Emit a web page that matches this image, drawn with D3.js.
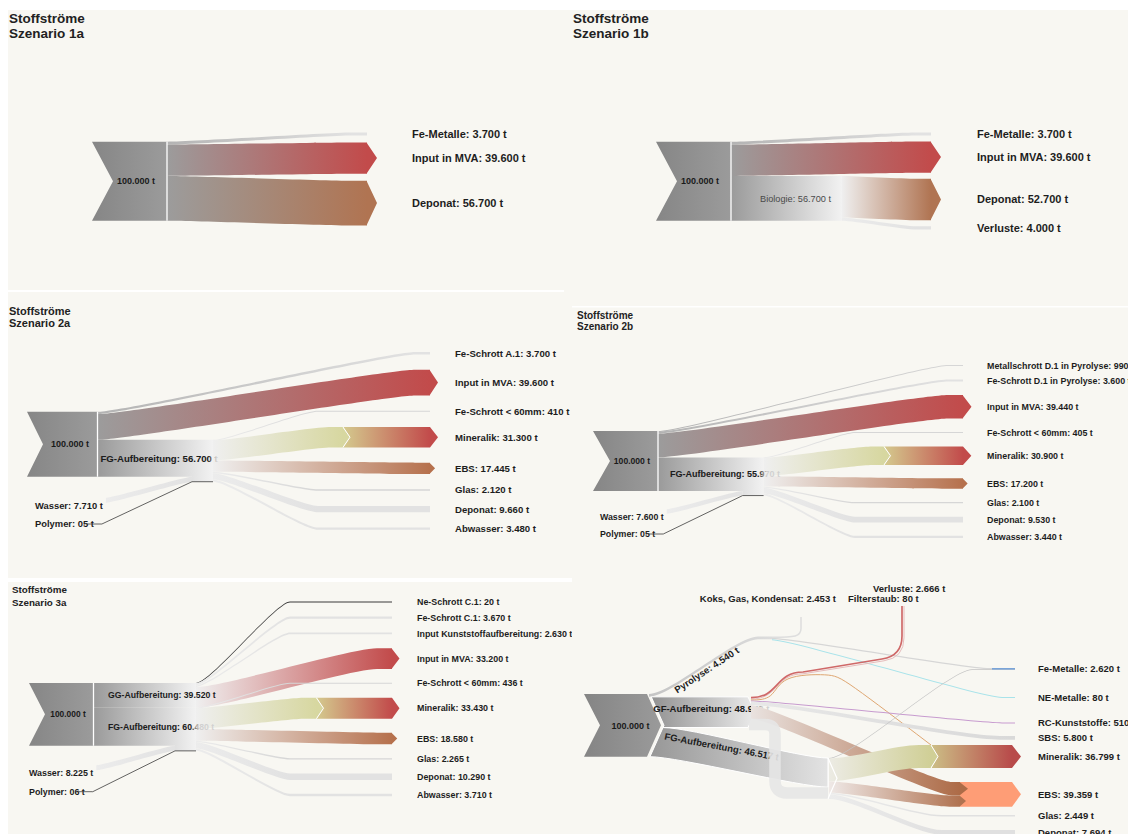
<!DOCTYPE html>
<html>
<head>
<meta charset="utf-8">
<title>Stoffströme</title>
<script src="https://cdn.jsdelivr.net/npm/d3@7"></script>
<style>
  body { margin: 0; background: #fff; }
  text { font-family: "Liberation Sans", Arial, Helvetica, sans-serif; }
</style>
</head>
<body>
<svg id="chart" width="1128" height="834"></svg>
<script>
// ---------- Daten (Tonnen) ----------
const s1aTitle = "Szenario 1a";
const s1aTargets = ["Fe-Metalle", "Input in MVA", "Deponat"];
const s1aValues = [3700, 39600, 56700];
const s1aFrom = [-1, -1, -1];

const s1bTitle = "Szenario 1b";
const s1bTargets = ["Fe-Metalle", "Input in MVA", "Deponat", "Verluste"];
const s1bValues = [3700, 39600, 52700, 4000];
const s1bFrom = [-1, -1, 0, 0];
const s1bNodes = ["Biologie"];
const s1bNodeValues = [56700];

const s2aTitle = "Szenario 2a";
const s2aTargets = ["Fe-Schrott A.1", "Input in MVA", "Fe-Schrott < 60mm", "Mineralik", "EBS", "Glas", "Deponat", "Abwasser"];
const s2aValues = [3700, 39600, 410, 31300, 17445, 2120, 9660, 3480];
const s2aFrom = [-1, -1, 0, 0, 0, 0, 0, 0];
const s2aNodes = ["FG-Aufbereitung"];
const s2aNodeValues = [56700];
const s2aInputs = ["Wasser", "Polymer"];
const s2aInputValues = [7710, 5];

const s2bTitle = "Szenario 2b";
const s2bTargets = ["Metallschrott D.1 in Pyrolyse", "Fe-Schrott D.1 in Pyrolyse", "Input in MVA", "Fe-Schrott < 60mm", "Mineralik", "EBS", "Glas", "Deponat", "Abwasser"];
const s2bValues = [990, 3600, 39440, 405, 30900, 17200, 2100, 9530, 3440];
const s2bFrom = [-1, -1, -1, 0, 0, 0, 0, 0, 0];
const s2bNodes = ["FG-Aufbereitung"];
const s2bNodeValues = [55970];
const s2bInputs = ["Wasser", "Polymer"];
const s2bInputValues = [7600, 5];

const s3aTitle = "Szenario 3a";
const s3aTargets = ["Ne-Schrott C.1", "Fe-Schrott C.1", "Input Kunststoffaufbereitung", "Input in MVA", "Fe-Schrott < 60mm", "Mineralik", "EBS", "Glas", "Deponat", "Abwasser"];
const s3aValues = [20, 3670, 2630, 33200, 436, 33430, 18580, 2265, 10290, 3710];
const s3aFrom = [0, 0, 0, 0, 1, 1, 1, 1, 1, 1];
const s3aNodes = ["GG-Aufbereitung", "FG-Aufbereitung"];
const s3aNodeValues = [39520, 60480];
const s3aInputs = ["Wasser", "Polymer"];
const s3aInputValues = [8225, 6];

// Szenario 3b: Fluesse (von, nach, Tonnen)
const s3bFrom = ["Input", "Input", "Input", "Pyrolyse", "Pyrolyse", "Pyrolyse",
  "GF-Aufbereitung", "GF-Aufbereitung", "GF-Aufbereitung", "GF-Aufbereitung", "GF-Aufbereitung", "GF-Aufbereitung", "GF-Aufbereitung",
  "FG-Aufbereitung", "FG-Aufbereitung", "FG-Aufbereitung", "FG-Aufbereitung", "FG-Aufbereitung"];
const s3bTo = ["Pyrolyse", "GF-Aufbereitung", "FG-Aufbereitung", "Koks, Gas, Kondensat", "Fe-Metalle", "NE-Metalle",
  "Verluste", "Filterstaub", "Mineralik", "RC-Kunststoffe", "SBS", "EBS", "FG-Aufbereitung",
  "Fe-Metalle", "Mineralik", "EBS", "Glas", "Deponat"];
const s3bValues = [4540, 48943, 46517, 2453, 2007, 80,
  2666, 80, 1000, 510, 5800, 21510, 18377,
  613, 36799, 17849, 2449, 7694];
const s3bOutputs = ["Fe-Metalle", "NE-Metalle", "RC-Kunststoffe", "SBS", "Mineralik", "EBS", "Glas", "Deponat"];
const s3bOutputValues = [2620, 80, 510, 5800, 36799, 39359, 2449, 7694];
const s3bTopOutputs = ["Koks, Gas, Kondensat", "Verluste", "Filterstaub"];
const s3bTopValues = [2453, 2666, 80];

// ---------- Layout ----------
const BG = "#f8f7f2";
const arrowStyles = {"Input in MVA": "red", "Mineralik": "mineral", "EBS": "ebs"};
const L1a = {bg: [8, 10, 556, 280], titleX: 9, titleY: 23.3, titleSize: 13.5, titleLH: 15,
  chevX: 92, top: 141.7, H: 79, notch: 21, divX: 167, tgtX: 367, tip: 10, tgtY0: 132.5, gap: 7,
  labelX: 412, fs: 11, srcFs: 9, srcX: 136, styles: {"Input in MVA": "red", "Deponat": "brown"}};
const L1b = Object.assign({}, L1a, {bg: [564, 10, 564, 296], titleX: 573, chevX: 656, divX: 731, tgtX: 931,
  nodeX1: 842, gap: 6, labelX: 977, srcX: 700, nodeLabelX: 760, nodePlain: true});
const L2a = {bg: [8, 292, 564, 286], titleX: 9, titleY: 315, titleSize: 11, titleLH: 12.3,
  chevX: 27, top: 411.7, H: 65, notch: 16, divX: 97.5, nodeX1: 213, stub: 21, tgtX: 430, tip: 8,
  tgtY0: 352, gap: 15.3, labelX: 455, fs: 9.6, srcFs: 9, srcX: 70, grayBend: 318, chevronX: 343,
  nodeFs: 9.6, nodeLabelX: 100.5, fade: [true], inX: 35, inY: [505.7, 524], inFs: 9.4, styles: arrowStyles};
const L2b = {bg: [572, 307.5, 556, 270.5], titleX: 577, titleY: 319, titleSize: 10, titleLH: 11,
  chevX: 593, top: 431, H: 60, notch: 17, divX: 658, nodeX1: 763.6, stub: 21, tgtX: 963, tip: 8.5,
  tgtY0: 365, gap: 13.4, labelX: 987, fs: 8.9, srcFs: 8.6, srcX: 632, grayBend: 855, chevronX: 884,
  nodeFs: 9, nodeLabelX: 670, fade: [true], inX: 600, inY: [516.7, 534], inFs: 8.8, styles: arrowStyles};
const L3a = {bg: [8, 582, 564, 252], titleX: 12, titleY: 593.3, titleSize: 9.8, titleLH: 12.8,
  chevX: 29, top: 683, H: 62.7, notch: 16, divX: 93.5, nodeX1: 196, stub: 21, tgtX: 392, tip: 7.5,
  tgtY0: 601.5, gap: 13.9, labelX: 417, fs: 8.9, srcFs: 8.4, srcX: 68, grayBend: 290, chevronX: 316.5,
  nodeFs: 8.7, nodeLabelX: 108, fade: [false, true], inX: 29, inY: [773.3, 791.7], inFs: 8.9,
  styles: Object.assign({"Ne-Schrott C.1": "dark"}, arrowStyles)};
const L3b = {bg: [572, 578, 556, 256],
  chevX: 584, top: 694, H: 62.7, notch: 16, chevR: 647, chevTip: 14,
  pyroX: 758, pyroY: 636.5, pyroX1: 772, gfX1: 748, gfTip: 7,
  fgX: 828, fgY: 758, fgTip: 9, loopX: 775, hump: 672,
  koksX: 801, koksY: 617, verlX: 902, verlY: 606,
  minChevX: 931, ebsX: 960, colX: 1012, tip: 9, labelX: 1038, fs: 9.5, srcFs: 9,
  rows: {"Fe-Metalle": 668, "NE-Metalle": 697, "RC-Kunststoffe": 722.5, "SBS": 736,
         "Mineralik": 745, "EBS": 782, "Glas": 815, "Deponat": 830}};

// ---------- Helfer ----------
const svg = d3.select("#chart");
const defs = svg.append("defs");
const fmtT = d3.formatLocale({decimal: ",", thousands: ".", grouping: [3], currency: ["", ""]}).format(",d");
const tLabel = v => (v < 10 ? d3.format("02d")(v) : fmtT(v)) + " t";
let gid = 0;

function grad(x1, x2, stops) {
  const id = "g" + (gid++);
  const lg = defs.append("linearGradient").attr("id", id).attr("gradientUnits", "userSpaceOnUse")
    .attr("x1", x1).attr("x2", x2).attr("y1", 0).attr("y2", 0);
  stops.forEach(s => lg.append("stop").attr("offset", s[0]).attr("stop-color", s[1]));
  return "url(#" + id + ")";
}

function ribbon(x0, y0, xb, y1, x1, w, c) {
  const cc = c == null ? Math.min(26, (xb - x0) * 0.15) : c;
  const p = d3.path();
  p.moveTo(x0, y0);
  p.bezierCurveTo(x0 + cc, y0, xb - cc, y1, xb, y1);
  p.lineTo(x1, y1);
  p.lineTo(x1, y1 + w);
  p.lineTo(xb, y1 + w);
  p.bezierCurveTo(xb - cc, y1 + w, x0 + cc, y0 + w, x0, y0 + w);
  p.closePath();
  return p.toString();
}
const tipPath = (x, y, w, t) => `M${x - 0.5},${y}L${x + t},${y + w / 2}L${x - 0.5},${y + w}Z`;

function text(g, x, y, txt, fs, o = {}) {
  return g.append("text").attr("x", x).attr("y", y).attr("font-size", fs)
    .attr("font-weight", o.weight || "bold").attr("fill", o.fill || "#1d1d1d")
    .attr("text-anchor", o.anchor || "start").text(txt);
}

function title(g, L, sub) {
  const t = g.append("text").attr("x", L.titleX).attr("y", L.titleY).attr("font-size", L.titleSize)
    .attr("font-weight", "bold").attr("fill", "#222");
  t.append("tspan").text("Stoffströme");
  t.append("tspan").attr("x", L.titleX).attr("dy", L.titleLH).text(sub);
}

function drawFlow(g, L, name, x0, y0, y1, w, fromNode) {
  const style = L.styles[name] || "gray";
  const x1 = L.tgtX;
  const startCol = fromNode ? "#efefef" : "#9c9c9c";
  if (style === "gray" || style === "dark") {
    const bend = fromNode && L.grayBend ? L.grayBend : x1 - 15;
    const fill = style === "dark" ? "#3a3a3a"
      : grad(x0, bend, [[0, fromNode ? "#ececec" : "#b3b3b3"], [1, w < 1.6 ? "#d6d6d6" : "#e2e2e2"]]);
    g.append("path").attr("d", ribbon(x0, y0, bend, y1, x1, style === "dark" ? 0.9 : w)).attr("fill", fill);
  } else if (style === "mineral") {
    const cx = L.chevronX, t = Math.min(7, w * 0.35), at = Math.min(L.tip, w * 0.45);
    g.append("path").attr("d", ribbon(x0, y0, cx - 12, y1, cx, w) + tipPath(cx, y1, w, t))
      .attr("fill", grad(x0, cx, [[0, startCol], [1, "#d7d7a0"]]));
    g.append("path").attr("d", `M${cx},${y1}H${x1}L${x1 + at},${y1 + w / 2}L${x1},${y1 + w}H${cx}L${cx + t},${y1 + w / 2}Z`)
      .attr("fill", grad(cx, x1, [[0, "#d4ca8e"], [1, "#c24b4b"]]));
    g.append("path").attr("d", `M${cx},${y1}L${cx + t},${y1 + w / 2}L${cx},${y1 + w}`)
      .attr("fill", "none").attr("stroke", "#fff").attr("stroke-width", 1);
  } else {
    const end = {red: "#c24b4b", brown: "#b07452", ebs: "#b6714d"}[style];
    const at = Math.min(L.tip, w * 0.45);
    g.append("path").attr("d", ribbon(x0, y0, x1 - 15, y1, x1, w) + tipPath(x1, y1, w, at))
      .attr("fill", grad(x0, x1, [[0, startCol], [1, end]]));
  }
}

function drawStandard(L, D) {
  const g = svg.append("g");
  g.append("rect").attr("x", L.bg[0]).attr("y", L.bg[1]).attr("width", L.bg[2]).attr("height", L.bg[3]).attr("fill", BG);
  title(g, L, D.title);
  const nodeValues = D.nodeValues || [];
  const total = d3.sum(D.values.filter((v, i) => D.from[i] < 0)) + d3.sum(nodeValues);
  const y = d3.scaleLinear().domain([0, total]).range([0, L.H]);
  const wv = v => Math.max(y(v), 1);
  const bottom = L.top + L.H;

  // Quelle
  g.append("path")
    .attr("d", `M${L.chevX},${L.top}H${L.divX}V${bottom}H${L.chevX}L${L.chevX + L.notch},${L.top + L.H / 2}Z`)
    .attr("fill", grad(L.chevX, L.divX, [[0, "#868686"], [1, "#9b9b9b"]]));

  let sy = L.top;
  const start = [];
  D.values.forEach((v, i) => { if (D.from[i] < 0) { start[i] = sy; sy += y(v); } });
  const nodes = (D.nodes || []).map((n, j) => {
    const o = {name: n, v: nodeValues[j], top: sy, h: y(nodeValues[j])};
    o.cur = o.top; sy += o.h; return o;
  });
  const inVals = D.inputValues || [];
  const inW = inVals.map(v => y(v));

  nodes.forEach((n, j) => {
    const hasIn = j === nodes.length - 1 && inW.length > 0;
    const hOut = n.h + (hasIn ? d3.sum(inW) : 0);
    const xs = L.nodeX1 - (L.stub || 0);
    const d = hasIn
      ? `M${L.divX},${n.top}H${L.nodeX1}V${n.top + hOut}H${xs}V${n.top + n.h}H${L.divX}Z`
      : `M${L.divX},${n.top}H${L.nodeX1}V${n.top + n.h}H${L.divX}Z`;
    g.append("path").attr("d", d).attr("fill", grad(L.divX, L.nodeX1, [[0, "#9a9a9a"], [1, "#f2f2f2"]]));
  });

  // Ziele
  let ty = L.tgtY0;
  const tTop = D.values.map(v => { const t = ty; ty += wv(v) + L.gap; return t; });

  D.values.forEach((v, i) => {
    const f = D.from[i];
    let x0, y0;
    if (f < 0) { x0 = L.divX; y0 = start[i]; }
    else { x0 = L.nodeX1; y0 = nodes[f].cur; nodes[f].cur += y(v); }
    drawFlow(g, L, D.targets[i], x0, y0, tTop[i], wv(v), f >= 0);
  });

  g.append("line").attr("x1", L.divX).attr("x2", L.divX).attr("y1", L.top).attr("y2", bottom)
    .attr("stroke", "#fff").attr("stroke-width", 1.3);

  // Beschriftungen
  text(g, L.srcX, L.top + L.H / 2 + L.srcFs * 0.35, tLabel(total), L.srcFs, {anchor: "middle", fill: "#1a1a1a"});
  D.values.forEach((v, i) => {
    text(g, L.labelX, tTop[i] + wv(v) / 2 + L.fs * 0.35, D.targets[i] + ": " + tLabel(v), L.fs);
  });
  nodes.forEach((n, j) => {
    const ly = n.top + n.h / 2;
    if (L.nodePlain) {
      text(g, L.nodeLabelX, ly + 3.5, n.name + ": " + tLabel(n.v), 9.2, {weight: "normal", fill: "#4a4a4a"});
    } else {
      const fill = L.fade[j] ? grad(L.nodeX1 - 5, L.nodeX1 + 3, [[0, "#1d1d1d"], [1, "#d0d0d0"]]) : "#1d1d1d";
      text(g, L.nodeLabelX, ly + L.nodeFs * 0.35, n.name + ": " + tLabel(n.v), L.nodeFs, {fill: fill});
    }
  });

  // Zufluesse (Wasser, Polymer)
  if (inW.length) {
    const last = nodes[nodes.length - 1];
    const xs = L.nodeX1 - L.stub;
    let yy = last.top + last.h;
    D.inputs.forEach((name, k) => {
      const t = text(g, L.inX, L.inY[k] + L.inFs * 0.35, name + ": " + tLabel(inVals[k]), L.inFs);
      const tw = t.node().getComputedTextLength();
      const w = inW[k];
      if (w >= 1) {
        const bx = L.inX + tw + 3, by = L.inY[k] - 3 - w;
        g.insert("path", "text").attr("d", ribbon(bx, by, xs, yy, xs, w, 8))
          .attr("fill", grad(bx, xs, [[0, "#ececec"], [1, "#e2e2e2"]]));
      } else {
        g.append("path").attr("d", `M${L.inX + tw - 7},${L.inY[k]}H${L.inX + tw + 8}L${xs},${yy + w}H${L.nodeX1}`)
          .attr("fill", "none").attr("stroke", "#3c3c3c").attr("stroke-width", 0.8);
      }
      yy += w;
    });
  }
}

function draw3b(L) {
  const g = svg.append("g");
  g.append("rect").attr("x", L.bg[0]).attr("y", L.bg[1]).attr("width", L.bg[2]).attr("height", L.bg[3]).attr("fill", BG);
  const flow = (a, b) => s3bValues[s3bFrom.findIndex((f, i) => f === a && s3bTo[i] === b)];
  const total = d3.sum(s3bValues.filter((v, i) => s3bFrom[i] === "Input"));
  const y = d3.scaleLinear().domain([0, total]).range([0, L.H]);
  const wv = v => Math.max(y(v), 1);
  const row = L.rows;
  const top = L.top, bot = L.top + L.H, mid = (top + bot) / 2;
  const pW = y(flow("Input", "Pyrolyse")), gW = y(flow("Input", "GF-Aufbereitung")), fW = y(flow("Input", "FG-Aufbereitung"));
  const yG = top + pW, yF = yG + gW;
  const xe = yy => L.chevR + 3 + L.chevTip * (1 - Math.abs(yy - mid) / (L.H / 2));

  // Quelle mit Spitze
  g.append("path")
    .attr("d", `M${L.chevX},${top}H${L.chevR}L${L.chevR + L.chevTip},${mid}L${L.chevR},${bot}H${L.chevX}L${L.chevX + L.notch},${mid}Z`)
    .attr("fill", grad(L.chevX, L.chevR + L.chevTip, [[0, "#858585"], [1, "#9a9a9a"]]));

  // Pyrolyse
  const pyC = 22;
  g.append("path").attr("d", ribbon(L.chevR + 2, top, L.pyroX, L.pyroY, L.pyroX1, pW, pyC))
    .attr("fill", grad(L.chevR, L.pyroX1, [[0, "#c4c4c4"], [1, "#dcdcdc"]]));

  // FG-Band
  const fx0t = xe(yF), fx0b = xe(bot);
  const pf = d3.path();
  pf.moveTo(fx0t, yF);
  pf.bezierCurveTo(fx0t + 28, yF, L.fgX - 28, L.fgY, L.fgX, L.fgY);
  pf.lineTo(L.fgX, L.fgY + fW);
  pf.bezierCurveTo(L.fgX - 28, L.fgY + fW, fx0b + 28, bot, fx0b, bot);
  pf.closePath();
  g.append("path").attr("d", pf.toString())
    .attr("fill", grad(fx0b, L.fgX, [[0, "#979797"], [1, "#e3e3e3"]])).attr("stroke", "#fff").attr("stroke-width", 1);

  // GF-Stueck
  const gMid = (yG + yF) / 2;
  g.append("path")
    .attr("d", `M${xe(yG)},${yG}H${L.gfX1}L${L.gfX1 + L.gfTip},${gMid}L${L.gfX1},${yF}H${xe(yF)}L${xe(mid)},${mid}Z`)
    .attr("fill", grad(L.chevR, L.gfX1 + L.gfTip, [[0, "#8e8e8e"], [1, "#ebebeb"]]))
    .attr("stroke", "#fff").attr("stroke-width", 1);

  // Beschriftungen der Knoten
  text(g, (L.chevX + L.notch + L.chevR + L.chevTip) / 2, mid + L.srcFs * 0.35, tLabel(total), L.srcFs, {anchor: "middle", fill: "#1a1a1a"});
  text(g, xe(yG) + 2, gMid - 4 + L.fs * 0.35, "GF-Aufbereitung: " + tLabel(flow("Input", "GF-Aufbereitung")), L.fs,
    {fill: grad(L.gfX1 + 6, L.gfX1 + 14, [[0, "#1d1d1d"], [1, "#cfcfcf"]])});
  const pAng = Math.atan2(L.pyroY - top, L.pyroX - (L.chevR + 2) - pyC) * 180 / Math.PI;
  const pmx = (L.chevR + 2 + L.pyroX) / 2 + 5, pmy = (top + L.pyroY) / 2 + 7.5;
  text(g, pmx, pmy, "Pyrolyse: " + tLabel(flow("Input", "Pyrolyse")), L.fs, {anchor: "middle"})
    .attr("transform", `rotate(${pAng},${pmx},${pmy})`);
  const fAng = Math.atan2(L.fgY - yF, L.fgX - fx0t) * 180 / Math.PI;
  const fsx = fx0t + 1, fsy = yF + 12;
  text(g, fsx, fsy, "FG-Aufbereitung: " + tLabel(flow("Input", "FG-Aufbereitung")), L.fs)
    .attr("transform", `rotate(${fAng},${fsx},${fsy})`);

  // Pyrolyse-Ausgaenge
  let py = L.pyroY;
  const kW = wv(flow("Pyrolyse", "Koks, Gas, Kondensat"));
  const pk = d3.path();
  pk.moveTo(L.pyroX1, py + kW / 2);
  pk.bezierCurveTo(L.koksX - 6, py + kW / 2, L.koksX, py, L.koksX, py - 8);
  pk.lineTo(L.koksX, L.koksY);
  g.append("path").attr("d", pk.toString()).attr("fill", "none").attr("stroke", "#dedede").attr("stroke-width", kW);
  py += kW;
  const feP = wv(flow("Pyrolyse", "Fe-Metalle"));
  g.append("path").attr("d", ribbon(L.pyroX1, py, L.colX - 22, row["Fe-Metalle"], L.colX + 3, feP, 25)).attr("fill", "#d6d6d6");
  py += feP;
  g.append("path").attr("d", ribbon(L.pyroX1, py, L.colX - 10, row["NE-Metalle"], L.colX + 3, wv(flow("Pyrolyse", "NE-Metalle")), 20))
    .attr("fill", "#a8e3ea");

  // GF-Ausgaenge
  const gx = L.gfX1 + 3;
  let gy = yG;
  function verl(y0, dx, dy) {
    const p = d3.path(), hy = L.hump + dy;
    p.moveTo(gx, y0);
    p.bezierCurveTo(gx + 28, y0, gx + 24, hy, gx + 52, hy);
    p.lineTo(L.verlX + dx - 20, hy - 13);
    p.quadraticCurveTo(L.verlX + dx, hy - 16, L.verlX + dx, hy - 36);
    p.lineTo(L.verlX + dx, L.verlY);
    return p.toString();
  }
  const vW = wv(flow("GF-Aufbereitung", "Verluste"));
  const fsW = wv(flow("GF-Aufbereitung", "Filterstaub"));
  g.append("path").attr("d", verl(gy + vW + fsW / 2, 2, 1.8)).attr("fill", "none").attr("stroke", "#e6bcbc").attr("stroke-width", fsW);
  g.append("path").attr("d", verl(gy + vW / 2, 0, 0)).attr("fill", "none").attr("stroke", "#cf6868").attr("stroke-width", vW);
  gy += vW + fsW;
  const oW = wv(flow("GF-Aufbereitung", "Mineralik"));
  g.append("path").attr("d", d3.line().curve(d3.curveBasis)([[gx, gy + oW / 2], [gx + 22, gy], [gx + 30, L.hump + 3],
      [gx + 80, L.hump + 2], [gx + 92, L.hump + 6], [L.minChevX, row["Mineralik"]]]))
    .attr("fill", "none").attr("stroke", "#dfa772").attr("stroke-width", oW);
  gy += oW;
  const rW = wv(flow("GF-Aufbereitung", "RC-Kunststoffe"));
  g.append("path").attr("d", ribbon(gx, gy, L.colX - 10, row["RC-Kunststoffe"], L.colX + 3, rW, 20)).attr("fill", "#c79bcf");
  gy += rW;
  const sW = wv(flow("GF-Aufbereitung", "SBS"));
  g.append("path").attr("d", ribbon(gx, gy, L.colX - 12, row["SBS"], L.colX + 3, sW, 40))
    .attr("fill", grad(gx, L.colX, [[0, "#e8e8e8"], [1, "#d9d9d9"]]));
  gy += sW;

  // EBS-Pfeil
  const ebsW = wv(s3bOutputValues[s3bOutputs.indexOf("EBS")]);
  g.append("path").attr("d", `M${L.ebsX},${row["EBS"]}H${L.colX}L${L.colX + L.tip},${row["EBS"] + ebsW / 2}L${L.colX},${row["EBS"] + ebsW}H${L.ebsX}Z`)
    .attr("fill", "#fe9d76");
  const eW = y(flow("GF-Aufbereitung", "EBS"));
  g.append("path").attr("d", ribbon(gx, gy, L.ebsX - 8, row["EBS"], L.ebsX, eW, 20) + tipPath(L.ebsX, row["EBS"], eW, 8))
    .attr("fill", grad(gx, L.ebsX, [[0, "#e9e2df"], [1, "#ad6b47"]]));
  gy += eW;

  // Schleife GF -> FG
  const lW = y(flow("GF-Aufbereitung", "FG-Aufbereitung"));
  const ly = gy + lW / 2, ey = L.fgY + fW + lW / 2;
  const pl = d3.path();
  pl.moveTo(gx - 2, ly);
  pl.lineTo(L.loopX - 10, ly);
  pl.quadraticCurveTo(L.loopX, ly, L.loopX, ly + 10);
  pl.lineTo(L.loopX, ey - 12);
  pl.quadraticCurveTo(L.loopX, ey, L.loopX + 12, ey);
  pl.lineTo(L.fgX, ey);
  g.append("path").attr("d", pl.toString()).attr("fill", "none").attr("stroke", "#e6e6e6")
    .attr("stroke-opacity", 0.9).attr("stroke-width", lW);

  // FG-Ausgaenge
  const fx = L.fgX + 1;
  let fy = L.fgY;
  const fe2 = y(flow("FG-Aufbereitung", "Fe-Metalle"));
  g.append("path").attr("d", ribbon(fx, fy, L.colX - 40, row["Fe-Metalle"] + feP, L.colX + 3, Math.max(fe2, 0.8), 22)).attr("fill", "#c4c4c4");
  fy += fe2;
  const mW = y(flow("FG-Aufbereitung", "Mineralik"));
  const cx = L.minChevX;
  g.append("path").attr("d", ribbon(fx, fy, cx - 12, row["Mineralik"], cx, mW, 22) + tipPath(cx, row["Mineralik"], mW, 7))
    .attr("fill", grad(fx, cx, [[0, "#ecebe4"], [1, "#d0cf96"]]));
  g.append("path").attr("d", `M${cx},${row["Mineralik"]}H${L.colX}L${L.colX + L.tip},${row["Mineralik"] + mW / 2}L${L.colX},${row["Mineralik"] + mW}H${cx}L${cx + 7},${row["Mineralik"] + mW / 2}Z`)
    .attr("fill", grad(cx, L.colX, [[0, "#ccbf86"], [1, "#b84a4a"]]));
  g.append("path").attr("d", `M${cx},${row["Mineralik"]}L${cx + 7},${row["Mineralik"] + mW / 2}L${cx},${row["Mineralik"] + mW}`)
    .attr("fill", "none").attr("stroke", "#fff").attr("stroke-width", 1);
  fy += mW;
  const e2 = y(flow("FG-Aufbereitung", "EBS"));
  g.append("path").attr("d", ribbon(fx, fy, L.ebsX - 8, row["EBS"] + eW, L.ebsX, e2, 22) + tipPath(L.ebsX, row["EBS"] + eW, e2, 6))
    .attr("fill", grad(fx, L.ebsX, [[0, "#efe9e7"], [1, "#b07250"]]));
  fy += e2;
  ["Glas", "Deponat"].forEach(n => {
    const w = wv(flow("FG-Aufbereitung", n));
    g.append("path").attr("d", ribbon(fx, fy, 942, row[n], L.colX + 3, w, 25))
      .attr("fill", grad(fx, 942, [[0, "#ececec"], [1, "#e0e0e0"]]));
    fy += w;
  });
  const nodeH = fW + lW;
  g.append("path").attr("d", `M${L.fgX},${L.fgY}L${L.fgX + L.fgTip},${L.fgY + nodeH / 2}L${L.fgX},${L.fgY + nodeH}`)
    .attr("fill", "none").attr("stroke", "#fff").attr("stroke-width", 1.2);

  // Fe-Metalle Markierung
  const feTot = wv(s3bOutputValues[s3bOutputs.indexOf("Fe-Metalle")]);
  g.append("rect").attr("x", L.colX - 20).attr("y", row["Fe-Metalle"]).attr("width", 23).attr("height", feTot).attr("fill", "#7aa4d8");

  // Ziel-Beschriftungen
  s3bOutputs.forEach((n, i) => {
    const v = s3bOutputValues[i];
    text(g, L.labelX, row[n] + wv(v) / 2 + L.fs * 0.35, n + ": " + tLabel(v), L.fs);
  });
  text(g, L.koksX + 35, 602.3, s3bTopOutputs[0] + ": " + tLabel(s3bTopValues[0]), L.fs, {anchor: "end"});
  text(g, L.verlX - 29, 591.6, s3bTopOutputs[1] + ": " + tLabel(s3bTopValues[1]), L.fs);
  text(g, L.verlX - 54, 602.3, s3bTopOutputs[2] + ": " + tLabel(s3bTopValues[2]), L.fs);
}

// ---------- Zeichnen ----------
drawStandard(L1a, {title: s1aTitle, targets: s1aTargets, values: s1aValues, from: s1aFrom});
drawStandard(L1b, {title: s1bTitle, targets: s1bTargets, values: s1bValues, from: s1bFrom,
  nodes: s1bNodes, nodeValues: s1bNodeValues});
drawStandard(L2a, {title: s2aTitle, targets: s2aTargets, values: s2aValues, from: s2aFrom,
  nodes: s2aNodes, nodeValues: s2aNodeValues, inputs: s2aInputs, inputValues: s2aInputValues});
drawStandard(L2b, {title: s2bTitle, targets: s2bTargets, values: s2bValues, from: s2bFrom,
  nodes: s2bNodes, nodeValues: s2bNodeValues, inputs: s2bInputs, inputValues: s2bInputValues});
drawStandard(L3a, {title: s3aTitle, targets: s3aTargets, values: s3aValues, from: s3aFrom,
  nodes: s3aNodes, nodeValues: s3aNodeValues, inputs: s3aInputs, inputValues: s3aInputValues});
draw3b(L3b);
</script>
</body>
</html>
